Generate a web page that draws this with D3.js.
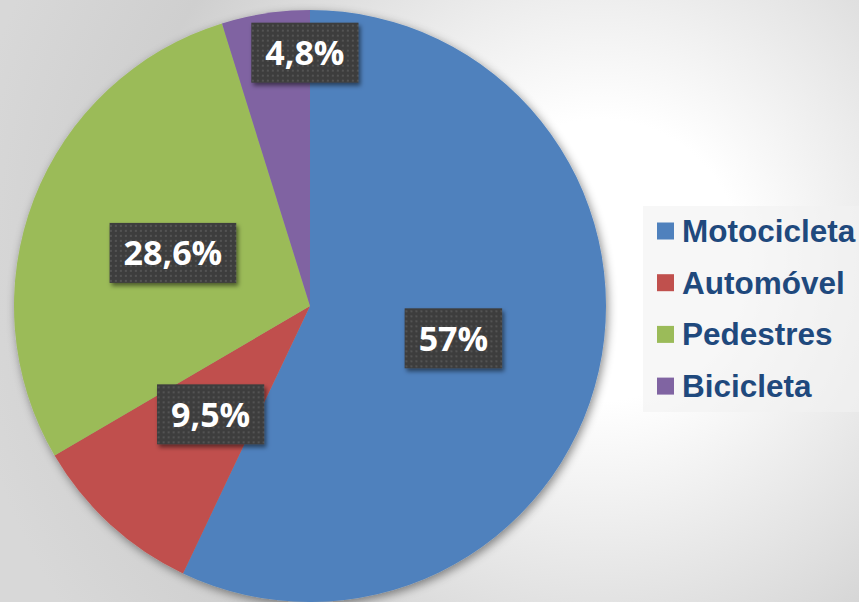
<!DOCTYPE html>
<html>
<head>
<meta charset="utf-8">
<script src="https://cdn.jsdelivr.net/npm/d3@7"></script>
<style>
  html, body { margin: 0; padding: 0; }
  svg { display: block; }
</style>
</head>
<body>
<div id="chart"></div>
<script>
// データ
const categories = ["Motocicleta", "Automóvel", "Pedestres", "Bicicleta"];
const values = [57, 9.5, 28.6, 4.8];
const colors = ["#4F81BD", "#C0504D", "#9BBB59", "#8064A2"];

const width = 859;
const height = 602;
const cx = 310, cy = 306, radius = 296;

const svg = d3.select("#chart").append("svg")
  .attr("width", width)
  .attr("height", height);

const defs = svg.append("defs");

// 背景のグラデーション
const bg = defs.append("radialGradient")
  .attr("id", "bg")
  .attr("gradientUnits", "userSpaceOnUse")
  .attr("cx", 600).attr("cy", 260).attr("r", 640);
bg.append("stop").attr("offset", "0").attr("stop-color", "#ffffff");
bg.append("stop").attr("offset", "0.22").attr("stop-color", "#ffffff");
bg.append("stop").attr("offset", "0.75").attr("stop-color", "#cfcfcf");
bg.append("stop").attr("offset", "1").attr("stop-color", "#d8d8d8");

svg.append("rect").attr("width", width).attr("height", height).attr("fill", "url(#bg)");

// 影
const sh = defs.append("filter").attr("id", "pieShadow")
  .attr("x", "-20%").attr("y", "-20%").attr("width", "140%").attr("height", "140%");
sh.append("feDropShadow").attr("dx", 2).attr("dy", 3).attr("stdDeviation", 5)
  .attr("flood-color", "#000").attr("flood-opacity", 0.45);

const boxSh = defs.append("filter").attr("id", "boxShadow")
  .attr("x", "-20%").attr("y", "-20%").attr("width", "140%").attr("height", "150%");
boxSh.append("feDropShadow").attr("dx", 2).attr("dy", 3).attr("stdDeviation", 2)
  .attr("flood-color", "#000").attr("flood-opacity", 0.5);

// ラベルのドット模様
const pat = defs.append("pattern").attr("id", "dots")
  .attr("patternUnits", "userSpaceOnUse").attr("width", 5).attr("height", 5);
pat.append("rect").attr("width", 5).attr("height", 5).attr("fill", "#3d3d3d");
pat.append("rect").attr("x", 2).attr("y", 2).attr("width", 2).attr("height", 2).attr("fill", "#535353");

// 円グラフ
const pie = d3.pie().sort(null).value(d => d.value);
const data = categories.map((c, i) => ({ name: c, value: values[i], color: colors[i] }));
const arcs = pie(data);
const arc = d3.arc().innerRadius(0).outerRadius(radius);
const labelArc = d3.arc().innerRadius(147).outerRadius(147);

const g = svg.append("g").attr("transform", `translate(${cx},${cy})`);

g.append("g").attr("filter", "url(#pieShadow)")
  .selectAll("path")
  .data(arcs)
  .join("path")
  .attr("d", arc)
  .attr("fill", d => d.data.color);

// ラベル（小さい扇形は外側へずらす）
const labelNudge = { "Bicicleta": [17, -108] };
const fmt = v => String(v).replace(".", ",") + "%";

const labels = g.selectAll("g.lbl")
  .data(arcs)
  .join("g")
  .attr("class", "lbl")
  .attr("transform", d => {
    const [x, y] = labelArc.centroid(d);
    const n = labelNudge[d.data.name] || [0, 0];
    return `translate(${x + n[0]},${y + n[1]})`;
  });

labels.each(function(d) {
  const sel = d3.select(this);
  const box = sel.append("rect").attr("fill", "url(#dots)").attr("filter", "url(#boxShadow)");
  const t = sel.append("text")
    .attr("text-anchor", "middle")
    .attr("dy", "0.36em")
    .attr("fill", "#ffffff")
    .style("font-family", "'Open Sans', sans-serif")
    .style("font-weight", "bold")
    .style("font-size", "34px")
    .text(fmt(d.data.value));
  const w = t.node().getComputedTextLength() + 28;
  box.attr("x", -w / 2).attr("y", -30).attr("width", w).attr("height", 60);
});

// 凡例
const legend = svg.append("g").attr("transform", "translate(643,206)");
legend.append("rect")
  .attr("width", 216).attr("height", 206)
  .attr("fill", "#f2f2f2").attr("fill-opacity", 0.6);

const rows = legend.selectAll("g.row")
  .data(data)
  .join("g")
  .attr("class", "row")
  .attr("transform", (d, i) => `translate(14,${25 + i * 51.7})`);

rows.append("rect")
  .attr("x", 0).attr("y", -8.5)
  .attr("width", 17).attr("height", 17)
  .attr("fill", d => d.color);

rows.append("text")
  .attr("x", 25).attr("y", 11)
  .attr("fill", "#1F497D")
  .style("font-family", "'Liberation Sans', Arial, sans-serif")
  .style("font-weight", "bold")
  .style("font-size", "31.5px")
  .text(d => d.name);
</script>
</body>
</html>
